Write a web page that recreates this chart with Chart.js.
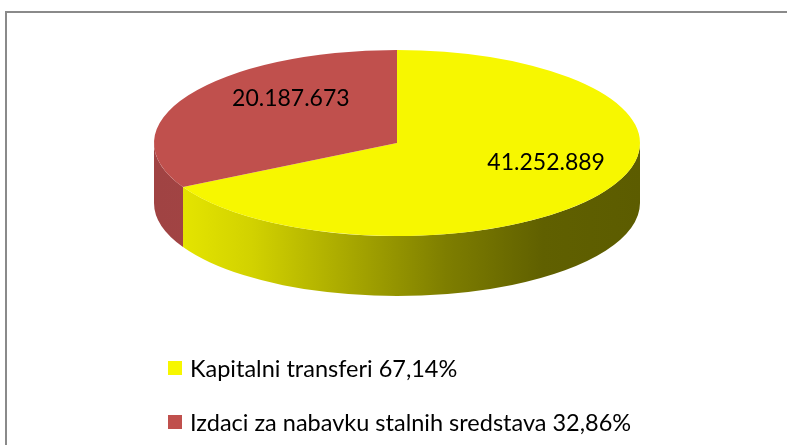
<!DOCTYPE html>
<html>
<head>
<meta charset="utf-8">
<script src="https://cdn.jsdelivr.net/npm/chart.js@4/dist/chart.umd.min.js"></script>
<style>
  body { margin: 0; background: #fff; }
  #wrap { position: relative; width: 787px; height: 445px; overflow: hidden; }
  #frame { position: absolute; left: 5px; top: 11px; width: 800px; height: 460px; border: 2px solid #8a8a8a; box-sizing: border-box; }
  #pie { position: absolute; left: 0; top: 0; }
  #legend { position: absolute; left: 168px; top: 354px; font-family: Lato, sans-serif; font-size: 23.5px; color: #000; }
  .item { display: flex; align-items: center; height: 28px; margin-bottom: 26px; }
  .box { width: 14px; height: 14px; margin-right: 8px; }
</style>
</head>
<body>
<div id="wrap">
  <div id="frame"></div>
  <canvas id="pie" width="787" height="445"></canvas>
  <div id="legend"></div>
</div>
<script>
const categories = ['Kapitalni transferi', 'Izdaci za nabavku stalnih sredstava'];
const values = [41252889, 20187673];
const topColors = ['#f7f700', '#c0504d'];

const total = values.reduce((a, b) => a + b, 0);
const fmtNum = v => v.toLocaleString('de-DE');
const fmtPct = v => (v / total * 100).toFixed(2).replace('.', ',') + '%';

// fake 3D: squash the pie into an ellipse and draw the front wall under it
const pie3d = {
  id: 'pie3d',
  beforeDatasetsDraw(chart, args, o) {
    const ctx = chart.ctx;
    const arcs = chart.getDatasetMeta(0).data;
    const R = arcs[0].outerRadius;

    arcs.forEach((arc, i) => {
      const segs = [];
      [[0, Math.PI], [2 * Math.PI, 3 * Math.PI]].forEach(([lo, hi]) => {
        const a = Math.max(arc.startAngle, lo), b = Math.min(arc.endAngle, hi);
        if (b > a) segs.push([a, b]);
      });
      segs.forEach(([a, b]) => {
        const g = ctx.createLinearGradient(o.cx - o.rx, 0, o.cx + o.rx, 0);
        o.sideStops[i].forEach((c, k, arr) => g.addColorStop(k / (arr.length - 1), c));
        ctx.beginPath();
        ctx.ellipse(o.cx, o.cy, o.rx, o.ry, 0, a, b);
        ctx.lineTo(o.cx + o.rx * Math.cos(b), o.cy + o.depth + o.ry * Math.sin(b));
        ctx.ellipse(o.cx, o.cy + o.depth, o.rx, o.ry, 0, b, a, true);
        ctx.closePath();
        ctx.fillStyle = g;
        ctx.fill();
      });
    });

    ctx.save();
    ctx.translate(o.cx, o.cy);
    ctx.scale(o.rx / R, o.ry / R);
    ctx.translate(-arcs[0].x, -arcs[0].y);
  },
  afterDatasetsDraw(chart, args, o) {
    const ctx = chart.ctx;
    ctx.restore();
    const arcs = chart.getDatasetMeta(0).data;
    ctx.save();
    ctx.font = o.font;
    ctx.fillStyle = '#000';
    ctx.textAlign = 'center';
    ctx.textBaseline = 'middle';
    arcs.forEach((arc, i) => {
      const mid = (arc.startAngle + arc.endAngle) / 2;
      const x = o.cx + o.rx * o.labelRadius * Math.cos(mid) + o.labelShift[i][0];
      const y = o.cy + o.ry * o.labelRadius * Math.sin(mid) + o.labelShift[i][1];
      ctx.fillText(fmtNum(values[i]), x, y);
    });
    ctx.restore();
  }
};

new Chart(document.getElementById('pie'), {
  type: 'pie',
  data: {
    labels: categories,
    datasets: [{
      data: values,
      backgroundColor: topColors,
      borderWidth: 0
    }]
  },
  options: {
    responsive: false,
    animation: false,
    events: [],
    plugins: {
      legend: { display: false },
      tooltip: { enabled: false },
      pie3d: {
        cx: 397, cy: 143, rx: 243, ry: 93, depth: 60,
        sideStops: [
          ['#ecec00', '#d2d200', '#a8a800', '#7e7e00', '#606000', '#5c5c00'],
          ['#a04343', '#b04a48']
        ],
        labelRadius: 0.6,
        labelShift: [[24, -9], [19, -16]],
        font: '23px Lato, sans-serif'
      }
    }
  },
  plugins: [pie3d]
});

const legend = document.getElementById('legend');
categories.forEach((c, i) => {
  const row = document.createElement('div');
  row.className = 'item';
  row.innerHTML = '<span class="box" style="background:' + topColors[i] + '"></span><span>' + c + ' ' + fmtPct(values[i]) + '</span>';
  legend.appendChild(row);
});
</script>
</body>
</html>
